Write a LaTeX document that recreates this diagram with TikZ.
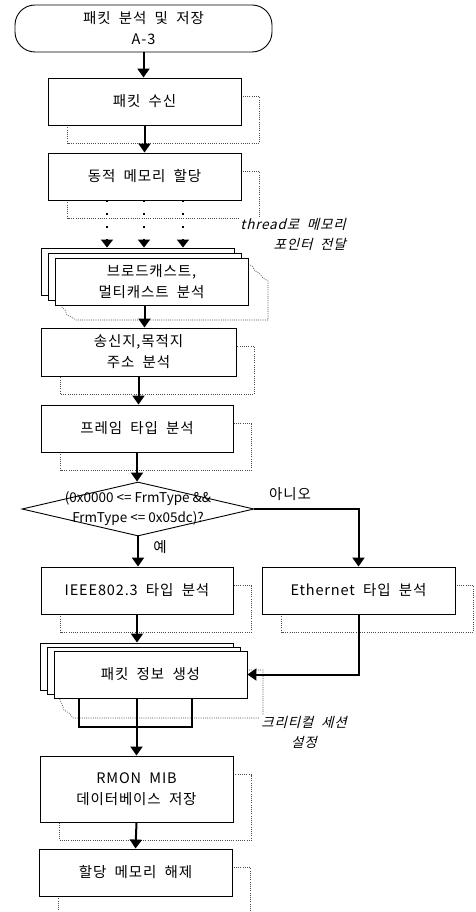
\documentclass[tikz,border=0pt]{standalone}
\usepackage{fontspec}
\setmainfont{Noto Sans CJK KR}[LetterSpace=6,WordSpace=2]
\newfontfamily\plainfont{Noto Sans CJK KR}
\newfontfamily\slantfont{Noto Sans CJK KR}[FakeSlant=0.25,LetterSpace=6,WordSpace=2]
\usetikzlibrary{shapes.geometric,arrows.meta,backgrounds}

\tikzset{
  box/.style={draw=black, line width=0.9pt, fill=white, minimum width=193pt,
    minimum height=47pt, inner sep=0pt, align=center,
    font=\fontsize{14.5}{21}\selectfont},
  terminal/.style={box, rounded corners=20pt, minimum width=257pt},
  shade line/.style={draw=black!70, line width=0.6pt, dash pattern=on 1pt off 1.2pt},
  flow/.style={line width=2pt, -{Triangle[width=12pt,length=9pt]}},
  joinline/.style={line width=2pt},
  thread/.style={line width=1.6pt, dash pattern=on 2pt off 11pt,
    -{Triangle[width=12pt,length=8pt]}},
  note/.style={font=\slantfont\fontsize{13.5}{20}\selectfont, fill=white, inner sep=1pt},
  tag/.style={font=\fontsize{14.5}{16}\selectfont, inner sep=0pt},
}

\begin{document}
\begin{tikzpicture}[x=1pt,y=-1pt]
\useasboundingbox (0,0) rectangle (475,912);

% main column
\node[terminal] (start) at (143.5,28.5) {패킷 분석 및 저장\\A-3};
\node[box] (recv)  at (144.5,101.5) {패킷 수신};
\node[box] (alloc) at (144.5,176.5) {동적 메모리 할당};

% stacked thread boxes
\node[box] (bcA) at (138,271.5) {};
\node[box] (bcB) at (144.5,276.5) {};
\node[box] (bc)  at (151.5,281.5) {브로드캐스트,\\멀티캐스트 분석};

\node[box, minimum width=195pt, minimum height=48pt] (addr) at (138.5,352) {송신지,목적지\\주소 분석};
\node[box, minimum width=192pt] (frame) at (137,428.5) {프레임 타입 분석};

% decision
\node[draw, diamond, line width=0.9pt, minimum width=232pt, minimum height=54pt,
      inner sep=0pt] (dia) at (138,509) {};
\node[font=\plainfont\fontsize{13.5}{20}\selectfont, align=center, inner sep=0pt]
      (cond) at (dia.center) {(0x0000 <= FrmType \&\&\\FrmType <= 0x05dc)?};

\node[box, minimum width=192pt] (ieee) at (137,590.5) {IEEE802.3 타입 분석};
\node[box] (eth) at (358.5,590.5) {Ethernet 타입 분석};

% stacked packet-info boxes
\node[box] (pkA) at (136.5,666.5) {};
\node[box] (pkB) at (143.5,670.5) {};
\node[box] (pk)  at (150.5,674.5) {패킷 정보 생성};

\node[box, minimum height=66pt] (rmon) at (136.5,789) {RMON MIB\\데이터베이스 저장};
\node[box] (free) at (135.5,872.5) {할당 메모리 해제};

% labels
\node[tag] (no)  at (290,494) {아니오};
\node[tag] (yes) at (160,547) {예};
\node[note, align=right, anchor=east] (thr) at (347,234) {thread로 메모리\\포인터 전달};
\node[note, align=center] (crit) at (304,732) {크리티컬 세션\\설정};

% dotted drop outlines behind the boxes
\begin{pgfonlayer}{background}
  \foreach \n in {recv,alloc,addr,frame,ieee,eth,rmon,free}
    \draw[shade line] ([shift={(20,19)}]\n.north west) rectangle ([shift={(18,18)}]\n.south east);
  \draw[shade line] (248,264) -- (252,266) -- (255,271) -- (259,273) -- (263,278)
    -- (268,281) -- (268,320) -- (76,320) -- (71,317) -- (67,315) -- (65,310)
    -- (62,307) -- (62,305);
  \draw[shade line] (247,670) -- (263,670) -- (263,718) -- (73,718) -- (69,713)
    -- (64,710) -- (62,704) -- (60,700) -- (60,698);
\end{pgfonlayer}

% connectors
\draw[flow] (start.south) -- (start.south |- recv.north);
\draw[flow] (recv.south) -- (alloc.north);

\coordinate (t1) at (107,0);
\coordinate (t2) at (144,0);
\coordinate (t3) at (183,0);
\foreach \t in {t1,t2,t3}
  \draw[thread] (alloc.south -| \t) -- (bcA.north -| \t);

\draw[flow] (bc.south -| alloc.south) -- (addr.north -| alloc.south);
\draw[flow] (addr.south) -- (addr.south |- frame.north);
\draw[flow] (frame.south) -- (frame.south |- dia.north);
\draw[flow] (dia.south) -- (dia.south |- ieee.north);
\draw[flow] (dia.east) -| (eth.north);
\draw[flow] (ieee.south) -- (ieee.south |- pkA.north);
\draw[flow] (eth.south) |- (pk.east);

\coordinate (p1) at (79,727);
\coordinate (p3) at (192,727);
\draw[joinline] (pk.south -| p1) -- (p1) -- (p3) -- (pk.south -| p3);
\draw[flow] (pk.south -| rmon.north) -- (rmon.north);
\draw[flow] (rmon.south) -- (free.north);
\end{tikzpicture}
\end{document}
